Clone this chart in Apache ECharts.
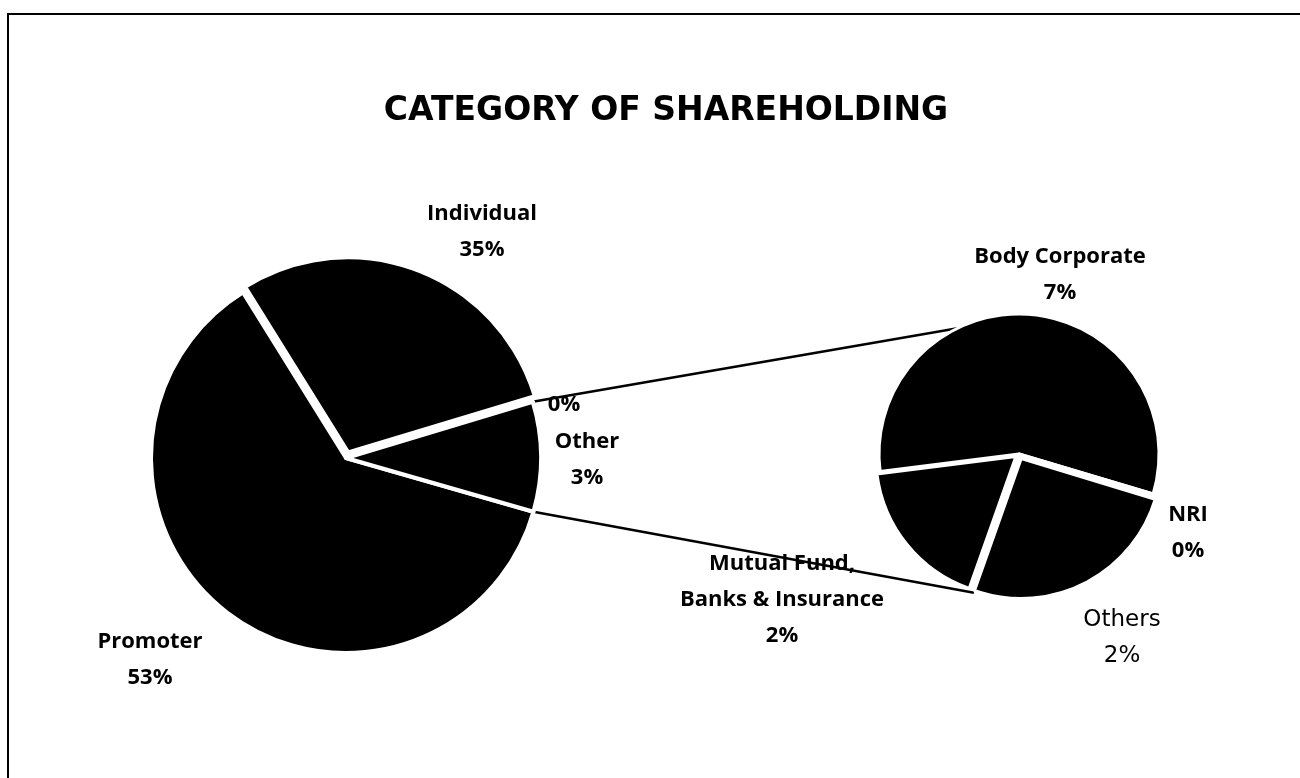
<!DOCTYPE html>
<html><head><meta charset="utf-8">
<script src="https://cdn.jsdelivr.net/npm/echarts@6/dist/echarts.min.js"></script>
<style>html,body{margin:0;padding:0;background:#fff}#c{width:1300px;height:778px}</style>
</head><body><div id="c"></div>
<script>
// ---- data ----
const titleText = 'CATEGORY OF SHAREHOLDING';
const mainCategories = ['Promoter', 'Individual', '', 'Other'];
const mainValues = [61.7, 29.2, 0, 9.1];          // slice sizes as drawn in the picture
const mainLabelPercents = [53, 35, 0, 3];          // percentages printed on the labels
const subCategories = ['Mutual Fund,\nBanks & Insurance', 'Body Corporate', 'NRI', 'Others'];
const subValues = [17.6, 56.6, 0.1, 25.7];
const subLabelPercents = [2, 7, 0, 2];

// ---- layout ----
const MAIN = { cx: 346, cy: 458, r: 195, startClock: 106, border: 4, explode: { 1: 6 } };
const SUB = { cx: 1019, cy: 454, r: 140, startClock: 199.5, border: 3, explode: { 0: 4, 3: 5 } };
const mainLabelPos = [[150, 660], [482, 232], [564, 405], [587, 460]];
const subLabelPos = [[782, 600], [1060, 275], [1188, 533], [1122, 638]];
const SUB_LINE_ANGLES = [334, 198];

const boldFont = 'Open Sans';
const chart = echarts.init(document.getElementById('c'), null, { renderer: 'canvas' });

function pt(c, r, clockDeg) {
  const a = clockDeg * Math.PI / 180;
  return [c.cx + r * Math.sin(a), c.cy - r * Math.cos(a)];
}
function sliceBounds(values, idx, startClock) {
  const total = values.reduce((s, v) => s + v, 0);
  let before = 0;
  for (let i = 0; i < idx; i++) before += values[i];
  const a1 = startClock + 360 * before / total;
  return [a1, a1 + 360 * values[idx] / total];
}
const otherIdx = mainCategories.indexOf('Other');
const [oa1, oa2] = sliceBounds(mainValues, otherIdx, MAIN.startClock);
const lineTopA = pt(MAIN, MAIN.r, oa1), lineBotA = pt(MAIN, MAIN.r, oa2);
const lineTopB = pt(SUB, SUB.r, SUB_LINE_ANGLES[0]), lineBotB = pt(SUB, SUB.r + 6, SUB_LINE_ANGLES[1]);

const labelStyle = {
  show: true, position: 'outside', color: '#000',
  fontFamily: boldFont, fontWeight: 'bold', fontSize: 22, lineHeight: 36, align: 'center', overflow: 'none'
};
const HIDDEN = { color: 'rgba(0,0,0,0)', borderWidth: 0 };

function buildPieSeries(cfg, cats, values, pcts, labelPos, extraLabel) {
  const base = {
    type: 'pie', clockwise: true, avoidLabelOverlap: false, minAngle: 0, animation: false, silent: true,
    center: [cfg.cx, cfg.cy], radius: cfg.r, startAngle: 90 - cfg.startClock,
    itemStyle: { color: '#000', borderColor: '#fff', borderWidth: cfg.border },
    labelLine: { show: false },
    emphasis: { disabled: true },
    label: Object.assign({}, labelStyle, {
      formatter: p => (p.name ? p.name + '\n' : '') + pcts[p.dataIndex] + '%'
    }),
    labelLayout: p => ({ x: labelPos[p.dataIndex][0], y: labelPos[p.dataIndex][1], align: 'center', verticalAlign: 'middle' }),
    data: cats.map((n, i) => {
      const d = { name: n, value: values[i] };
      if (cfg.explode[i] !== undefined) d.itemStyle = HIDDEN;
      if (extraLabel[i]) d.label = extraLabel[i];
      return d;
    })
  };
  const out = [base];
  Object.keys(cfg.explode).forEach(k => {
    const idx = +k;
    const [a1, a2] = sliceBounds(values, idx, cfg.startClock);
    const mid = (a1 + a2) / 2 * Math.PI / 180;
    const off = cfg.explode[k];
    out.push({
      type: 'pie', clockwise: true, avoidLabelOverlap: false, minAngle: 0, animation: false, silent: true,
      center: [cfg.cx + off * Math.sin(mid), cfg.cy - off * Math.cos(mid)], radius: cfg.r,
      startAngle: 90 - cfg.startClock,
      label: { show: false }, labelLine: { show: false }, emphasis: { disabled: true },
      data: cats.map((n, i) => ({
        name: n, value: values[i],
        itemStyle: i === idx ? { color: '#000', borderColor: '#fff', borderWidth: cfg.border } : HIDDEN
      }))
    });
  });
  return out;
}

const series = [].concat(
  buildPieSeries(MAIN, mainCategories, mainValues, mainLabelPercents, mainLabelPos, {}),
  buildPieSeries(SUB, subCategories, subValues, subLabelPercents, subLabelPos,
    { 3: { fontWeight: 'normal', fontFamily: 'DejaVu Sans', fontSize: 23 } })
);

chart.setOption({
  backgroundColor: '#fff',
  animation: false,
  title: {
    text: titleText, left: 661, top: 90, textAlign: 'center',
    textStyle: { fontFamily: 'DejaVu Sans', fontWeight: 'bold', fontSize: 33, color: '#000' }
  },
  graphic: [
    { type: 'rect', shape: { x: 8, y: 14, width: 1400, height: 900 }, style: { fill: 'none', stroke: '#000', lineWidth: 2 }, z: -10 },
    { type: 'line', shape: { x1: lineTopA[0], y1: lineTopA[1], x2: lineTopB[0], y2: lineTopB[1] }, style: { stroke: '#000', lineWidth: 2.5 }, z: -5 },
    { type: 'line', shape: { x1: lineBotA[0], y1: lineBotA[1], x2: lineBotB[0], y2: lineBotB[1] }, style: { stroke: '#000', lineWidth: 2.5 }, z: -5 }
  ],
  series: series
});
</script>
</body></html>
